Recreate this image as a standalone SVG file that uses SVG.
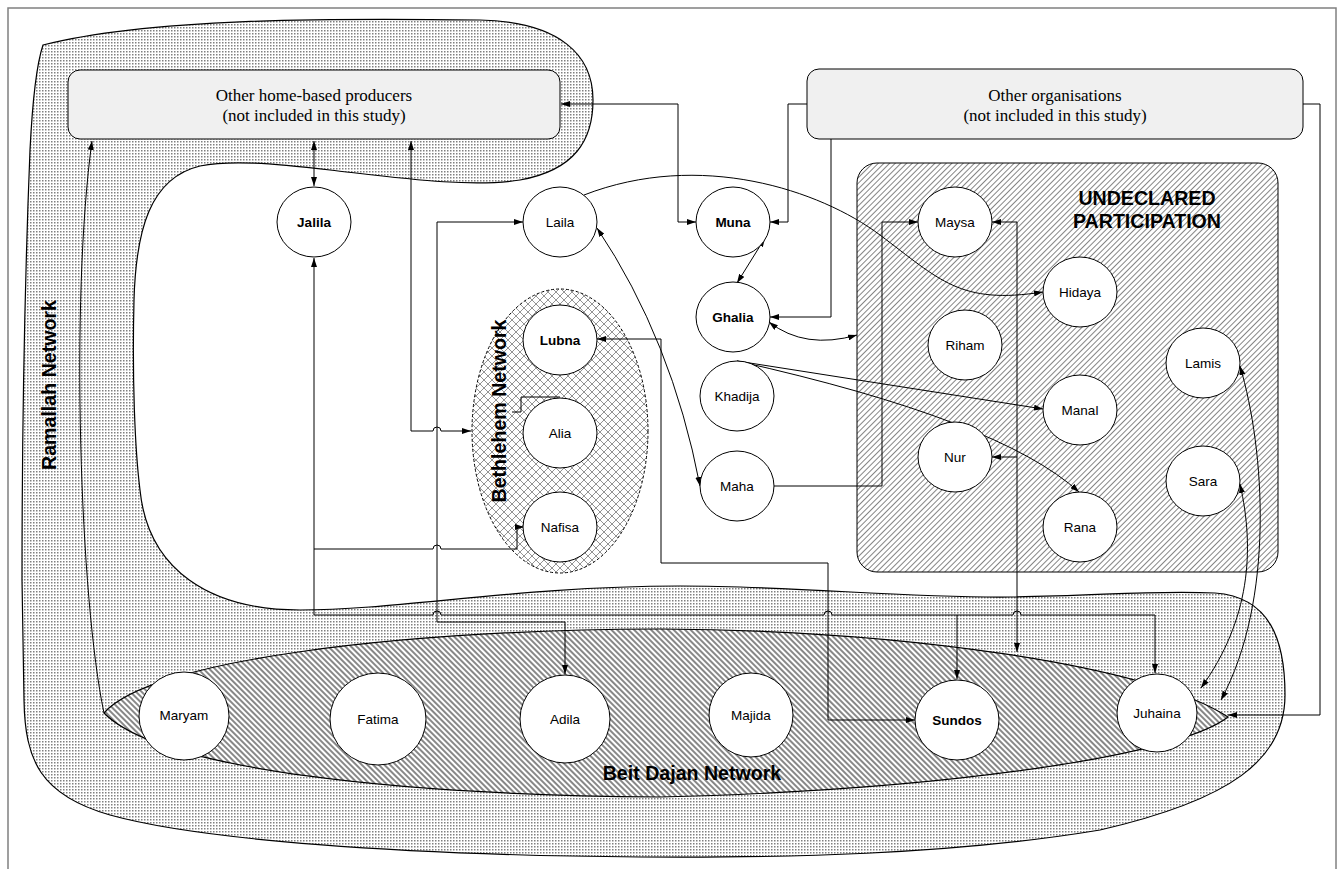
<svg xmlns="http://www.w3.org/2000/svg" width="1343" height="869" viewBox="0 0 1343 869">
<style>
.lbl{font-family:"Liberation Sans",Arial,sans-serif;font-size:13.5px;text-anchor:middle;fill:#000}
.b{font-weight:bold}
.big{font-family:"Liberation Sans",Arial,sans-serif;font-weight:bold;font-size:19.6px;text-anchor:middle;fill:#000}
.tm{font-family:"Liberation Serif","Times New Roman",serif;font-size:17px;text-anchor:middle;fill:#000}
.node{fill:#fff;stroke:#000;stroke-width:1}
.conn{fill:none;stroke:#000;stroke-width:1}
.box{fill:#f0f0f0;stroke:#000;stroke-width:1}
</style>
<defs>
<marker id="ah" viewBox="0 0 9 6" refX="9" refY="3" markerWidth="9" markerHeight="6" markerUnits="userSpaceOnUse" orient="auto-start-reverse"><path d="M0,0 L9,3 L0,6 Z" fill="#000"/></marker>
<pattern id="dots" width="3" height="3" patternUnits="userSpaceOnUse"><rect width="3" height="3" fill="#fff"/><rect width="1.5" height="1.5" fill="#808080"/></pattern>
<pattern id="stripes" width="4" height="4" patternUnits="userSpaceOnUse" patternTransform="rotate(45)"><rect width="4" height="4" fill="#fff"/><rect width="4" height="2" fill="#888"/></pattern>
<pattern id="hatch" width="4" height="4" patternUnits="userSpaceOnUse" patternTransform="rotate(-45)"><rect width="4" height="4" fill="#fff"/><rect width="4" height="0.8" fill="#666"/></pattern>
<pattern id="cross" width="8" height="8" patternUnits="userSpaceOnUse"><rect width="8" height="8" fill="#fff"/><path d="M0,0 L8,8 M8,0 L0,8" stroke="#888" stroke-width="0.9"/></pattern>
</defs>

<rect x="8" y="8" width="1328" height="880" fill="#fff" stroke="#808080" stroke-width="1.5"/>

<g id="ramallah-network">
<path d="M43,45 C150,18 330,18 480,20 C560,22 593,55 593,100 C593,140 575,170 520,180 C470,188 400,178 330,170 C270,163 230,160 200,166 C150,178 136,230 134,300 C132,380 135,450 140,490 C148,570 210,610 300,610 C400,610 520,586 680,586 C800,586 900,598 1010,597 C1100,596 1150,590 1215,593 C1270,597 1285,640 1285,695 C1285,760 1230,800 1100,830 C950,855 780,858 640,857 C400,855 200,840 110,815 C40,795 25,760 24,700 L22,580 C22,400 26,250 30,150 C33,90 38,60 43,45 Z" fill="url(#dots)" stroke="#000" stroke-width="1.2"/>
<text class="big" transform="translate(56,385) rotate(-90)">Ramallah Network</text>
</g>

<g id="beit-dajan-network">
<path d="M104,713 C150,660 400,630 660,629 C900,630 1150,665 1228,717 C1180,755 950,790 660,797 C400,795 160,770 104,713 Z" fill="url(#stripes)" stroke="#000" stroke-width="1.2"/>
<text class="big" x="692" y="780">Beit Dajan Network</text>
</g>

<g id="bethlehem-network">
<ellipse cx="560" cy="431" rx="88" ry="142" fill="url(#cross)" stroke="#000" stroke-width="1" stroke-dasharray="3,2"/>
<text class="big" transform="translate(506,411) rotate(-90)">Bethlehem Network</text>
</g>

<g id="undeclared-participation">
<rect x="857" y="163" width="421" height="409" rx="20" fill="url(#hatch)" stroke="#000" stroke-width="1"/>
<text class="big" x="1147" y="205">UNDECLARED</text>
<text class="big" x="1147" y="228">PARTICIPATION</text>
</g>

<g id="home-based-producers">
<rect class="box" x="68" y="70" width="492" height="69" rx="12"/>
<text class="tm" x="314" y="101">Other home-based producers</text>
<text class="tm" x="314" y="121">(not included in this study)</text>
</g>

<g id="other-organisations">
<rect class="box" x="807" y="69" width="496" height="70" rx="12"/>
<text class="tm" x="1055" y="101">Other organisations</text>
<text class="tm" x="1055" y="121">(not included in this study)</text>
</g>

<g id="connectors">
<path class="conn" d="M314,141 V186" marker-start="url(#ah)" marker-end="url(#ah)"/>
<path class="conn" d="M314,258 V615 H433 a4,4 0 0 1 8,0 H824 a4,4 0 0 1 8,0 H1013 a4,4 0 0 1 8,0 H1155 V673" marker-start="url(#ah)" marker-end="url(#ah)"/>
<path class="conn" d="M957,615 V679" marker-end="url(#ah)"/>
<path class="conn" d="M314,549 H433 a4,4 0 0 1 8,0 H517 V527 H524" marker-end="url(#ah)"/>
<path class="conn" d="M411,141 V431 H433 a4,4 0 0 1 8,0 H471" marker-start="url(#ah)" marker-end="url(#ah)"/>
<path class="conn" d="M565,674 V622 H437 V222 H523" marker-start="url(#ah)" marker-end="url(#ah)"/>
<path class="conn" d="M597,339 H661 V563 H828 V720 H915" marker-start="url(#ah)" marker-end="url(#ah)"/>
<path class="conn" d="M597,228 Q672,340 700,486" marker-start="url(#ah)" marker-end="url(#ah)"/>
<path class="conn" d="M584,195 C700,150 820,190 880,235 C940,280 960,305 1043,292" marker-end="url(#ah)"/>
<path class="conn" d="M561,104 H678 V222 H696" marker-start="url(#ah)" marker-end="url(#ah)"/>
<path class="conn" d="M807,104 H788 V222 H770" marker-end="url(#ah)"/>
<path class="conn" d="M831,139 V317 H770" marker-end="url(#ah)"/>
<path class="conn" d="M1303,104 H1320 V715 H1228" marker-end="url(#ah)"/>
<path class="conn" d="M765,238 L737,283" marker-start="url(#ah)" marker-end="url(#ah)"/>
<path class="conn" d="M769,322 Q805,350 857,335" marker-start="url(#ah)" marker-end="url(#ah)"/>
<path class="conn" d="M737,361 L1043,409" marker-end="url(#ah)"/>
<path class="conn" d="M737,361 Q1000,420 1079,492" marker-end="url(#ah)"/>
<path class="conn" d="M774,486 H882 V222 H918" marker-end="url(#ah)"/>
<path class="conn" d="M992,222 H1017 V652" marker-start="url(#ah)" marker-end="url(#ah)"/>
<path class="conn" d="M1017,457 H992" marker-end="url(#ah)"/>
<path class="conn" d="M1240,366 C1265,450 1275,600 1221,700" marker-start="url(#ah)" marker-end="url(#ah)"/>
<path class="conn" d="M1240,484 C1255,550 1250,620 1201,688" marker-start="url(#ah)" marker-end="url(#ah)"/>
<path class="conn" d="M104,713 C80,600 70,300 92,141" marker-end="url(#ah)"/>
<path class="conn" d="M560,397 H521 V412 H512"/>
</g>

<g id="node-jalila"><ellipse class="node" cx="314" cy="222" rx="37" ry="35"/><text class="lbl b" x="314" y="227">Jalila</text></g>
<g id="node-laila"><ellipse class="node" cx="560" cy="222" rx="37" ry="35"/><text class="lbl" x="560" y="227">Laila</text></g>
<g id="node-muna"><ellipse class="node" cx="733" cy="222" rx="37" ry="35"/><text class="lbl b" x="733" y="227">Muna</text></g>
<g id="node-ghalia"><ellipse class="node" cx="733" cy="317" rx="37" ry="35"/><text class="lbl b" x="733" y="322">Ghalia</text></g>
<g id="node-khadija"><ellipse class="node" cx="737" cy="396" rx="37" ry="35"/><text class="lbl" x="737" y="401">Khadija</text></g>
<g id="node-maha"><ellipse class="node" cx="737" cy="486" rx="37" ry="35"/><text class="lbl" x="737" y="491">Maha</text></g>
<g id="node-lubna"><ellipse class="node" cx="560" cy="340" rx="37" ry="35"/><text class="lbl b" x="560" y="345">Lubna</text></g>
<g id="node-alia"><ellipse class="node" cx="560" cy="433" rx="37" ry="35"/><text class="lbl" x="560" y="438">Alia</text></g>
<g id="node-nafisa"><ellipse class="node" cx="560" cy="527" rx="37" ry="35"/><text class="lbl" x="560" y="532">Nafisa</text></g>
<g id="node-maysa"><ellipse class="node" cx="955" cy="222" rx="37" ry="35"/><text class="lbl" x="955" y="227">Maysa</text></g>
<g id="node-hidaya"><ellipse class="node" cx="1080" cy="292" rx="37" ry="35"/><text class="lbl" x="1080" y="297">Hidaya</text></g>
<g id="node-riham"><ellipse class="node" cx="965" cy="345" rx="37" ry="35"/><text class="lbl" x="965" y="350">Riham</text></g>
<g id="node-manal"><ellipse class="node" cx="1080" cy="410" rx="37" ry="35"/><text class="lbl" x="1080" y="415">Manal</text></g>
<g id="node-nur"><ellipse class="node" cx="955" cy="457" rx="37" ry="35"/><text class="lbl" x="955" y="462">Nur</text></g>
<g id="node-rana"><ellipse class="node" cx="1080" cy="527" rx="37" ry="35"/><text class="lbl" x="1080" y="532">Rana</text></g>
<g id="node-lamis"><ellipse class="node" cx="1203" cy="363" rx="37" ry="35"/><text class="lbl" x="1203" y="368">Lamis</text></g>
<g id="node-sara"><ellipse class="node" cx="1203" cy="481" rx="37" ry="35"/><text class="lbl" x="1203" y="486">Sara</text></g>
<g id="node-maryam"><ellipse class="node" cx="184" cy="716" rx="45" ry="44"/><text class="lbl" x="184" y="720">Maryam</text></g>
<g id="node-fatima"><ellipse class="node" cx="378" cy="719" rx="48" ry="46"/><text class="lbl" x="378" y="724">Fatima</text></g>
<g id="node-adila"><ellipse class="node" cx="565" cy="719" rx="45" ry="44"/><text class="lbl" x="565" y="724">Adila</text></g>
<g id="node-majida"><ellipse class="node" cx="751" cy="715" rx="42" ry="42"/><text class="lbl" x="751" y="720">Majida</text></g>
<g id="node-sundos"><ellipse class="node" cx="957" cy="720" rx="42" ry="40"/><text class="lbl b" x="957" y="725">Sundos</text></g>
<g id="node-juhaina"><ellipse class="node" cx="1157" cy="713" rx="40" ry="39"/><text class="lbl" x="1157" y="718">Juhaina</text></g>
</svg>
